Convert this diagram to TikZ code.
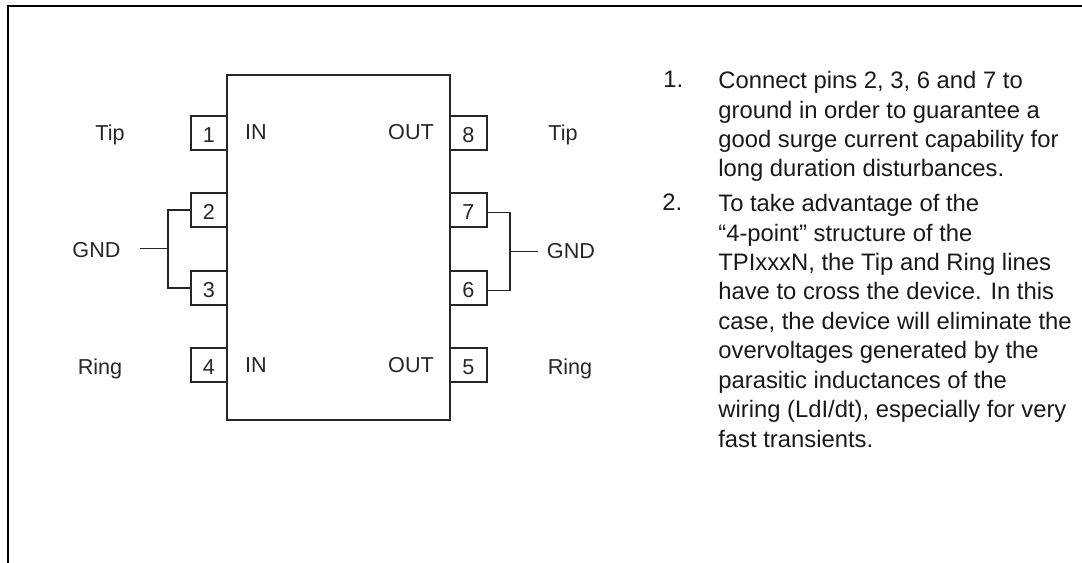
\documentclass[tikz,border=0pt]{standalone}
\usepackage{fontspec}
\setmainfont{Liberation Sans}
\tikzset{
  chipbox/.style={draw=black!85,line width=0.9pt,minimum width=4.46cm,minimum height=6.9cm,inner sep=0pt},
  pinbox/.style={draw=black!85,line width=0.9pt,minimum width=0.73cm,minimum height=0.68cm,inner sep=0pt,text=black!85,text height=11pt,font=\fontsize{12.3}{14}\selectfont},
  lbl/.style={text=black!85,font=\fontsize{12.3}{14}\selectfont,inner sep=0pt,anchor=base},
  note/.style={text=black!90,font=\fontsize{13.55}{16.75}\selectfont,inner sep=0pt,align=left,anchor=north west},
  wire/.style={draw=black!85,line width=0.9pt}
}
\begin{document}
\begin{tikzpicture}[x=2cm,y=2cm]
  \useasboundingbox (0,0) rectangle (10.82,5.63);
  \draw[black,line width=1.2pt] (0.08,0) -- (0.08,5.57) -- (10.82,5.57);

  \node[chipbox] (chip) at (3.385,3.155) {};

  \node[pinbox] (pina) at (2.09,4.30) {1};
  \node[pinbox] (pinb) at (2.09,3.53) {2};
  \node[pinbox] (pinc) at (2.09,2.75) {3};
  \node[pinbox] (pind) at (2.09,1.98) {4};
  \node[pinbox] (pine) at (4.685,1.98) {5};
  \node[pinbox] (pinf) at (4.685,2.75) {6};
  \node[pinbox] (ping) at (4.685,3.53) {7};
  \node[pinbox] (pinh) at (4.685,4.30) {8};

  \node[lbl] (tipa) at (1.10,4.22) {Tip};
  \node[lbl] (gnda) at (0.965,3.05) {GND};
  \node[lbl] (ringa) at (1.00,1.88) {Ring};
  \node[lbl] (tipb) at (5.63,4.22) {Tip};
  \node[lbl] (gndb) at (5.71,3.04) {GND};
  \node[lbl] (ringb) at (5.70,1.88) {Ring};

  \node[lbl] (ina) at (2.56,4.23) {IN};
  \node[lbl] (inb) at (2.56,1.90) {IN};
  \node[lbl] (outa) at (4.11,4.23) {OUT};
  \node[lbl] (outb) at (4.11,1.90) {OUT};

  \coordinate (busa) at (1.68,3.15);
  \coordinate (busb) at (5.10,3.12);
  \coordinate (enda) at (1.40,3.15);
  \coordinate (endb) at (5.38,3.12);

  \draw[wire] (pinb.west) -| (busa);
  \draw[wire] (pinc.west) -| (busa);
  \draw[wire,line width=1.1pt] ([yshift=-0.05cm]ping.east) -| (busb);
  \draw[wire,line width=1.1pt] ([yshift=-0.05cm]pinf.east) -| (busb);
  \draw[black!85,line width=0.5pt] (enda) -- (busa);
  \draw[black!85,line width=0.5pt] (endb) -- (busb);

  \node[note] (numa) at (6.63,4.92) {1.};
  \node[note] (texta) at (7.18,4.92) {Connect pins 2, 3, 6 and 7 to\\ground in order to guarantee a\\good surge current capability for\\long duration disturbances.};
  \node[note] (numb) at (6.62,3.69) {2.};
  \node[note] (textb) at (7.18,3.69) {To take advantage of the\\“4-point” structure of the\\TPIxxxN, the Tip and Ring lines\\have to cross the device. In this\\case, the device will eliminate the\\overvoltages generated by the\\parasitic inductances of the\\wiring (LdI/dt), especially for very\\fast transients.};
\end{tikzpicture}
\end{document}
